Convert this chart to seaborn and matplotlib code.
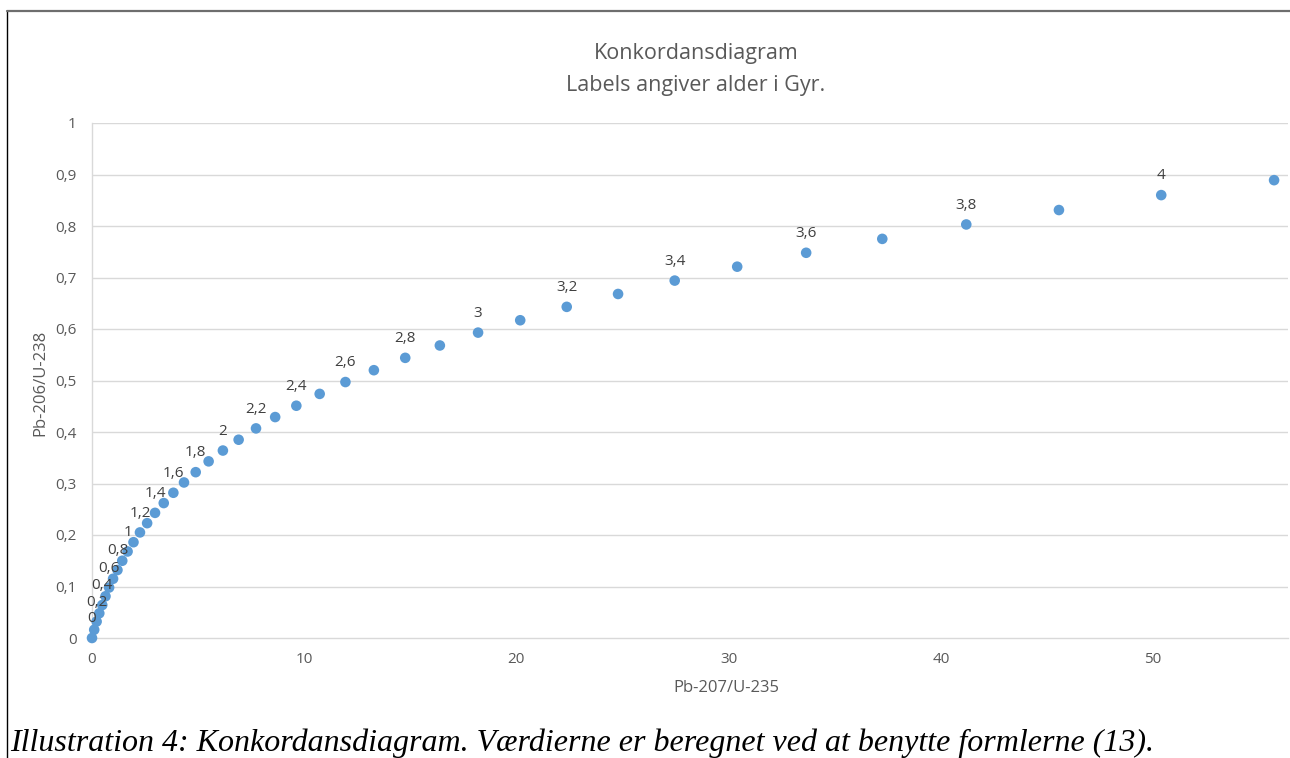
import matplotlib
matplotlib.use("Agg")
import matplotlib.pyplot as plt
import seaborn as sns
import pandas as pd
from matplotlib.lines import Line2D

# ---- data ----
ages = [0.0, 0.1, 0.2, 0.3, 0.4, 0.5, 0.6, 0.7, 0.8, 0.9,
        1.0, 1.1, 1.2, 1.3, 1.4, 1.5, 1.6, 1.7, 1.8, 1.9,
        2.0, 2.1, 2.2, 2.3, 2.4, 2.5, 2.6, 2.7, 2.8, 2.9,
        3.0, 3.1, 3.2, 3.3, 3.4, 3.5, 3.6, 3.7, 3.8, 3.9,
        4.0, 4.1]
pb207_u235 = [0.0, 0.104, 0.218, 0.344, 0.483, 0.636, 0.806, 0.993, 1.199, 1.426,
              1.677, 1.955, 2.260, 2.598, 2.970, 3.381, 3.834, 4.335, 4.887, 5.496,
              6.168, 6.910, 7.729, 8.632, 9.629, 10.729, 11.943, 13.283, 14.761, 16.392,
              18.193, 20.179, 22.371, 24.790, 27.459, 30.404, 33.654, 37.241, 41.199, 45.566,
              50.386, 55.704]
pb206_u238 = [0.0, 0.016, 0.032, 0.048, 0.064, 0.081, 0.098, 0.115, 0.132, 0.150,
              0.168, 0.186, 0.205, 0.223, 0.243, 0.262, 0.282, 0.302, 0.322, 0.343,
              0.364, 0.385, 0.407, 0.429, 0.451, 0.474, 0.497, 0.520, 0.544, 0.568,
              0.593, 0.617, 0.643, 0.668, 0.694, 0.721, 0.748, 0.775, 0.803, 0.831,
              0.860, 0.889]
y_ticks = [0, 0.1, 0.2, 0.3, 0.4, 0.5, 0.6, 0.7, 0.8, 0.9, 1.0]
y_tick_labels = ["0", "0,1", "0,2", "0,3", "0,4", "0,5", "0,6", "0,7", "0,8", "0,9", "1"]
x_ticks = [0, 10, 20, 30, 40, 50]
x_tick_labels = ["0", "10", "20", "30", "40", "50"]

df = pd.DataFrame({"x": pb207_u235, "y": pb206_u238, "age": ages})

sns.set_theme(style="white")
plt.rcParams["font.family"] = ["Open Sans", "DejaVu Sans"]

W, H = 1290, 758
fig = plt.figure(figsize=(W / 100, H / 100), dpi=100)
fig.patch.set_facecolor("white")

left, right, top, bottom = 92, 1288, 123, 638
ax = fig.add_axes([left / W, 1 - bottom / H, (right - left) / W, (bottom - top) / H])

sns.scatterplot(data=df, x="x", y="y", ax=ax, color="#5B9BD5", s=58,
                edgecolor="none", linewidth=0, clip_on=False, zorder=3, legend=False)

ax.set_xlim(0, 56.36)
ax.set_ylim(0, 1)

# grid lines
for yv in y_ticks[1:]:
    ax.axhline(yv, color="#D9D9D9", lw=1.0, zorder=1)
for s in ["top", "right"]:
    ax.spines[s].set_visible(False)
for s in ["left", "bottom"]:
    ax.spines[s].set_color("#D9D9D9")
    ax.spines[s].set_linewidth(1.0)

tick_color = "#595959"
ax.set_yticks(y_ticks)
ax.set_yticklabels(y_tick_labels, color=tick_color, fontsize=11)
ax.set_xticks(x_ticks)
ax.set_xticklabels(x_tick_labels, color=tick_color, fontsize=11)
ax.tick_params(axis="y", length=0, pad=11)
ax.tick_params(axis="x", length=0, pad=10)
ax.set_xlabel("")
ax.set_ylabel("")

# data labels (every 0.2 Gyr)
for i, (a, xv, yv) in enumerate(zip(ages, pb207_u235, pb206_u238)):
    if i % 2 == 0:
        txt = f"{a:g}".replace(".", ",")
        ax.annotate(txt, (xv, yv), xytext=(0, 8.5), textcoords="offset points",
                    ha="center", va="bottom", fontsize=11, color="#404040",
                    annotation_clip=False, zorder=4)

# titles
fig.text(696 / W, 1 - 53 / H, "Konkordansdiagram", ha="center", va="center",
         fontsize=15.5, color="#595959")
fig.text(696 / W, 1 - 86 / H, "Labels angiver alder i Gyr.", ha="center", va="center",
         fontsize=15.5, color="#595959")

# axis titles
fig.text(726 / W, 1 - 688 / H, "Pb-207/U-235", ha="center", va="center",
         fontsize=12, color="#595959")
fig.text(40 / W, 1 - 383 / H, "Pb-206/U-238", ha="center", va="center",
         fontsize=12, color="#595959", rotation=90)

# caption
fig.text(10 / W, 1 - 751 / H,
         "Illustration 4: Konkordansdiagram. Værdierne er beregnet ved at benytte formlerne (13).",
         ha="left", va="baseline", fontsize=23, fontstyle="italic",
         family=["Liberation Serif", "DejaVu Serif"], color="black")

# frame lines
fig.add_artist(Line2D([7 / W, 7 / W], [0, 1 - 11 / H], transform=fig.transFigure,
                      color="black", lw=1.0))
fig.add_artist(Line2D([7 / W, 1], [1 - 11 / H, 1 - 11 / H], transform=fig.transFigure,
                      color="#6E6E6E", lw=1.6))

fig.savefig("out.png", dpi=100, facecolor="white")
